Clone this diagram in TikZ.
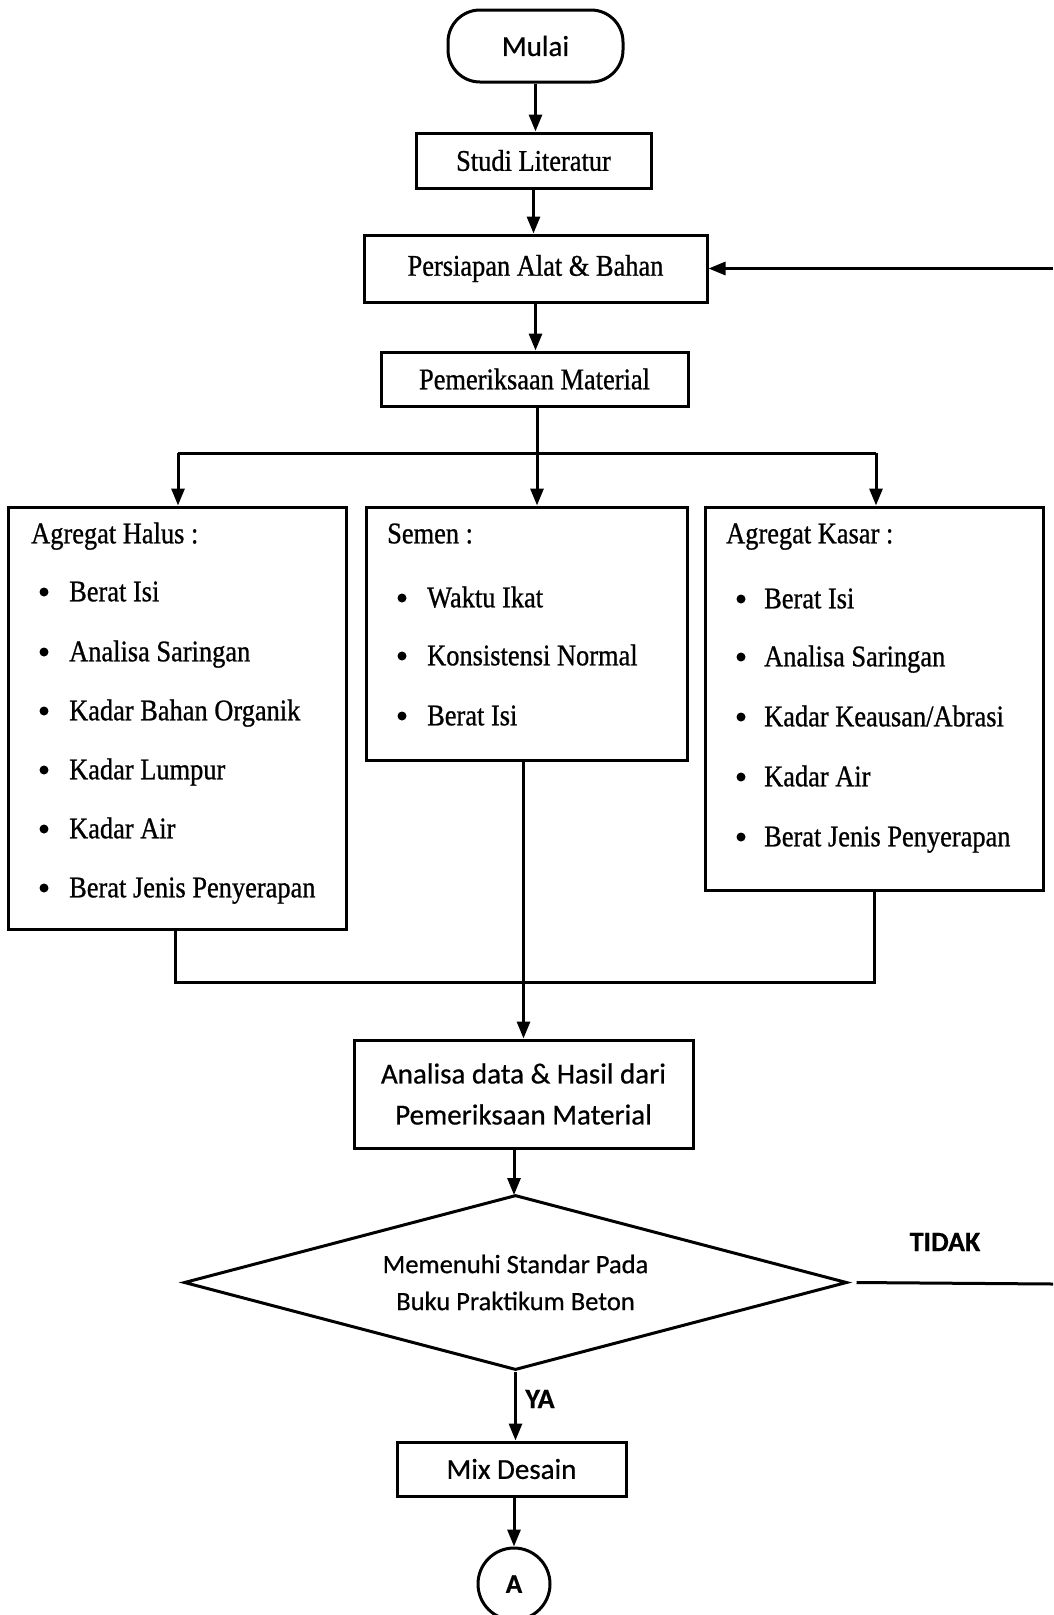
\documentclass[tikz,border=0pt]{standalone}
\usepackage{fontspec}
\setmainfont{Liberation Serif}[FakeStretch=0.88,FakeBold=0.8]
\newfontfamily\carlito{Carlito}[FakeBold=0.6]
\usetikzlibrary{arrows.meta,shapes.geometric,calc}
\tikzset{
  ln/.style={line width=3pt},
  arr/.style={ln,-{Triangle[length=17pt,width=13pt]}},
  boxx/.style={draw,ln,rectangle,inner sep=0pt},
  tms/.style={font=\fontsize{30}{34}\selectfont},
  cal/.style={font=\carlito\fontsize{29}{41}\selectfont},
  item/.style={anchor=mid west,inner sep=0pt,yshift=-7pt,font=\fontsize{30}{34}\selectfont},
  dot/.style={circle,fill,inner sep=0pt,minimum size=9pt},
  lbl/.style={font=\carlito\bfseries\fontsize{28}{30}\selectfont,inner sep=0pt}
}
\begin{document}
\begin{tikzpicture}[x=1pt,y=-1pt]
\path[fill=white] (0,0) rectangle (1053,1615);
\useasboundingbox (0,0) rectangle (1053,1615);

% main boxes
\node[boxx,rounded corners=32pt,minimum width=175pt,minimum height=72pt,cal] (mulai) at (535.5,46) {Mulai};
\node[boxx,minimum width=235pt,minimum height=55pt,tms] (studi) at (533.5,160.5) {Studi Literatur};
\node[boxx,minimum width=343pt,minimum height=67pt,tms] (pers) at (535.5,268.5) {Persiapan Alat \& Bahan};
\node[boxx,minimum width=307pt,minimum height=54pt,tms] (pem) at (534.5,379) {Pemeriksaan Material};

\node[boxx,minimum width=338pt,minimum height=422pt] (halus) at (177,718) {};
\node[boxx,minimum width=321pt,minimum height=253pt] (semen) at (526.5,633.5) {};
\node[boxx,minimum width=338pt,minimum height=383pt] (kasar) at (874,698.5) {};

\node[boxx,minimum width=339pt,minimum height=108pt,cal,align=center] (anal) at (523.5,1094) {Analisa data \& Hasil dari\\Pemeriksaan Material};
\node[draw,ln,diamond,aspect=3.79,inner sep=0pt,minimum width=663pt,minimum height=175pt,font=\carlito\fontsize{26.5}{37}\selectfont,align=center] (dia) at (515.5,1282.5) {Memenuhi Standar Pada\\Buku Praktikum Beton};
\node[boxx,minimum width=229pt,minimum height=54pt,cal] (mix) at (511.5,1469) {Mix Desain};
\node[draw,ln,circle,minimum size=72pt,inner sep=0pt,font=\carlito\bfseries\fontsize{27}{30}\selectfont] (A) at (514,1584) {A};

% list texts
\node[item] (hh) at (31,534) {Agregat Halus :};
\foreach \n/\y/\t in {1/592/Berat Isi,2/652/Analisa Saringan,3/711/Kadar Bahan Organik,4/770/Kadar Lumpur,5/829/Kadar Air,6/888/Berat Jenis Penyerapan}{
  \node[dot] (hd\n) at (44,\y) {};
  \node[item] (ht\n) at (69,\y) {\t};
}
\node[item] (sh) at (387,534) {Semen :};
\foreach \n/\y/\t in {1/598/Waktu Ikat,2/656/Konsistensi Normal,3/716/Berat Isi}{
  \node[dot] (sd\n) at (402,\y) {};
  \node[item] (st\n) at (427,\y) {\t};
}
\node[item] (kh) at (726,534) {Agregat Kasar :};
\foreach \n/\y/\t in {1/599/Berat Isi,2/657/Analisa Saringan,3/717/{Kadar Keausan/Abrasi},4/777/Kadar Air,5/837/Berat Jenis Penyerapan}{
  \node[dot] (kd\n) at (741,\y) {};
  \node[item] (kt\n) at (764,\y) {\t};
}

% connectors
\draw[arr] (mulai.south) -- (mulai.south |- studi.north);
\draw[arr] (studi.south) -- (studi.south |- pers.north);
\draw[arr] (pers.south) -- (pers.south |- pem.north);

\coordinate (bm) at (537,453);
\coordinate (bl) at (178,453);
\coordinate (br) at (876,453);
\draw[ln] (537,406) -- (bm);
\draw[ln] (bl) -- (br);
\draw[arr] (bl) -- (bl |- halus.north);
\draw[arr] (bm) -- (bm |- semen.north);
\draw[arr] (br) -- (br |- kasar.north);

\coordinate (jl) at (175,982);
\coordinate (jr) at (874,982);
\draw[ln] (jl |- halus.south) -- (jl) -- (jr) -- (jr |- kasar.south);
\draw[arr] (anal.north |- semen.south) -- (anal.north);

\draw[arr] (514,1148) -- (514,1195);
\draw[arr] (dia.south) -- (dia.south |- mix.north);
\draw[arr] (A.north |- mix.south) -- (A.north);

\coordinate (edgeT) at (1053,1284);
\coordinate (edgeP) at (1053,268.5);
\draw[ln] ($(dia.east)+(8,0)$) -- (edgeT);
\draw[arr] (edgeP) -- (pers.east);

\node[lbl] (tidak) at (945,1242) {TIDAK};
\node[lbl] (ya) at (540,1399) {YA};
\end{tikzpicture}
\end{document}
